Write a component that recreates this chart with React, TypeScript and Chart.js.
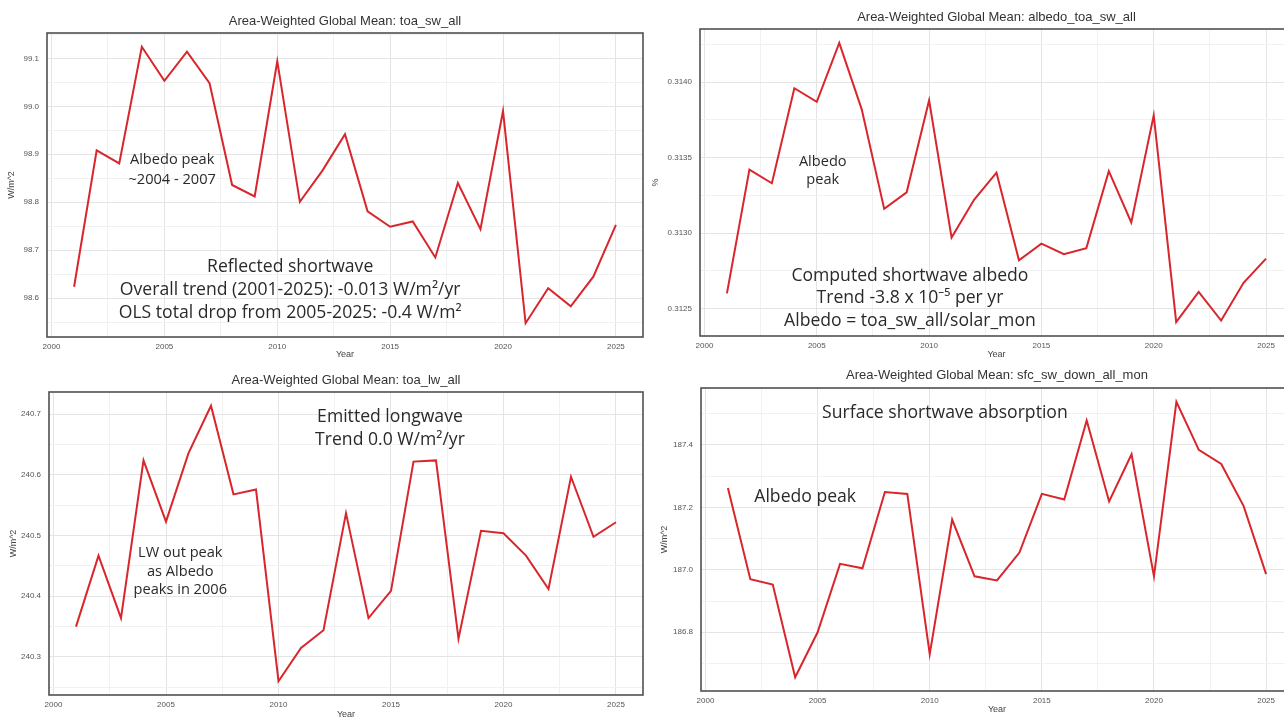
import React, { useEffect, useRef } from 'react';
import { Chart, registerables } from 'chart.js';

Chart.register(...registerables);

// ---------------- data ----------------
const years = [2001, 2002, 2003, 2004, 2005, 2006, 2007, 2008, 2009, 2010, 2011, 2012, 2013, 2014, 2015, 2016, 2017, 2018, 2019, 2020, 2021, 2022, 2023, 2024, 2025];

const toaSwAll = [98.624, 98.908, 98.881, 99.124, 99.053, 99.114, 99.048, 98.836, 98.812, 99.094, 98.801, 98.866, 98.942, 98.781, 98.749, 98.760, 98.685, 98.840, 98.744, 98.990, 98.548, 98.621, 98.583, 98.645, 98.753];
const albedoToaSwAll = [0.31260, 0.31342, 0.31333, 0.31396, 0.31387, 0.31426, 0.31382, 0.31316, 0.31327, 0.31388, 0.31297, 0.31322, 0.31340, 0.31282, 0.31293, 0.31286, 0.31290, 0.31341, 0.31307, 0.31378, 0.31241, 0.31261, 0.31242, 0.31267, 0.31283];
const toaLwAll = [240.350, 240.467, 240.364, 240.624, 240.523, 240.636, 240.714, 240.568, 240.576, 240.260, 240.315, 240.344, 240.537, 240.364, 240.409, 240.622, 240.624, 240.330, 240.508, 240.504, 240.467, 240.412, 240.597, 240.498, 240.522];
const sfcSwDownAllMon = [187.262, 186.970, 186.953, 186.656, 186.800, 187.019, 187.005, 187.249, 187.243, 186.730, 187.161, 186.979, 186.966, 187.055, 187.243, 187.225, 187.478, 187.219, 187.370, 186.979, 187.538, 187.384, 187.339, 187.204, 186.986];

const xTickYears = [2000, 2005, 2010, 2015, 2020, 2025];
const swTicks = [98.6, 98.7, 98.8, 98.9, 99.0, 99.1];
const albedoTicks = [0.3125, 0.3130, 0.3135, 0.3140];
const lwTicks = [240.3, 240.4, 240.5, 240.6, 240.7];
const sfcTicks = [186.8, 187.0, 187.2, 187.4];

const titles = [
  'Area-Weighted Global Mean: toa_sw_all',
  'Area-Weighted Global Mean: albedo_toa_sw_all',
  'Area-Weighted Global Mean: toa_lw_all',
  'Area-Weighted Global Mean: sfc_sw_down_all_mon',
];

// ---------------- layout ----------------
type Note = { text: string; fx: number; fy: number; size: number };
type Panel = {
  title: string;
  yTitle: string;
  values: number[];
  yTicks: number[];
  decimals: number;
  canvas: { left: number; top: number; width: number; height: number };
  area: { left: number; top: number; right: number; bottom: number };
  titleDy: number;
  yearDy: number;
  yTitleDx: number;
  notes: Note[];
};

const BIG = 17.6;
const SMALL = 14.6;

const panels: Panel[] = [
  {
    title: titles[0], yTitle: 'W/m^2', values: toaSwAll, yTicks: swTicks, decimals: 1,
    canvas: { left: 0, top: 0, width: 645, height: 362 },
    area: { left: 47, top: 33, right: 643, bottom: 337 },
    titleDy: -12, yearDy: 18, yTitleDx: -35,
    notes: [
      { text: 'Albedo peak', fx: 0.21, fy: 0.418, size: SMALL },
      { text: '~2004 - 2007', fx: 0.21, fy: 0.484, size: SMALL },
      { text: 'Reflected shortwave', fx: 0.408, fy: 0.770, size: BIG },
      { text: 'Overall trend (2001-2025): -0.013 W/m²/yr', fx: 0.408, fy: 0.845, size: BIG },
      { text: 'OLS total drop from 2005-2025: -0.4 W/m²', fx: 0.408, fy: 0.920, size: BIG },
    ],
  },
  {
    title: titles[1], yTitle: '%', values: albedoToaSwAll, yTicks: albedoTicks, decimals: 4,
    canvas: { left: 644, top: 0, width: 652, height: 362 },
    area: { left: 700, top: 29, right: 1293, bottom: 336 },
    titleDy: -12, yearDy: 19, yTitleDx: -44,
    notes: [
      { text: 'Albedo', fx: 0.207, fy: 0.433, size: SMALL },
      { text: 'peak', fx: 0.207, fy: 0.492, size: SMALL },
      { text: 'Computed shortwave albedo', fx: 0.354, fy: 0.805, size: BIG },
      { text: 'Trend -3.8 x 10⁻⁵ per yr', fx: 0.354, fy: 0.876, size: BIG },
      { text: 'Albedo = toa_sw_all/solar_mon', fx: 0.354, fy: 0.951, size: BIG },
    ],
  },
  {
    title: titles[2], yTitle: 'W/m^2', values: toaLwAll, yTicks: lwTicks, decimals: 1,
    canvas: { left: 0, top: 360, width: 645, height: 372 },
    area: { left: 49, top: 392, right: 643, bottom: 695 },
    titleDy: -12, yearDy: 20, yTitleDx: -35,
    notes: [
      { text: 'Emitted longwave', fx: 0.574, fy: 0.083, size: BIG },
      { text: 'Trend 0.0 W/m²/yr', fx: 0.574, fy: 0.158, size: BIG },
      { text: 'LW out peak', fx: 0.221, fy: 0.531, size: SMALL },
      { text: 'as Albedo', fx: 0.221, fy: 0.594, size: SMALL },
      { text: 'peaks in 2006', fx: 0.221, fy: 0.653, size: SMALL },
    ],
  },
  {
    title: titles[3], yTitle: 'W/m^2', values: sfcSwDownAllMon, yTicks: sfcTicks, decimals: 1,
    canvas: { left: 644, top: 360, width: 652, height: 372 },
    area: { left: 701, top: 388, right: 1293, bottom: 691 },
    titleDy: -13, yearDy: 19, yTitleDx: -36,
    notes: [
      { text: 'Surface shortwave absorption', fx: 0.412, fy: 0.083, size: BIG },
      { text: 'Albedo peak', fx: 0.176, fy: 0.360, size: BIG },
    ],
  },
];

const LINE_COLOR = '#d8262c';
const TICK_FONT = '"Liberation Sans", Arial, sans-serif';
const NOTE_FONT = '"Open Sans", "Noto Sans", sans-serif';

function withMinor(majors: number[], min: number, max: number) {
  const step = majors[1] - majors[0];
  const out: { value: number; isMinor: boolean }[] = [];
  const first = majors[0] - step * 2;
  for (let i = 0; i < majors.length + 4; i++) {
    const major = first + step * i;
    const half = major + step / 2;
    const isReal = majors.some((m) => Math.abs(m - major) < step * 1e-6);
    if (major >= min && major <= max) out.push({ value: major, isMinor: !isReal });
    if (half >= min && half <= max) out.push({ value: half, isMinor: true });
  }
  return out;
}

function makeDecor(p: Panel) {
  return {
    id: 'decor',
    afterDraw(chart: any) {
      const { ctx, chartArea: a } = chart;
      ctx.save();
      ctx.strokeStyle = '#505050';
      ctx.lineWidth = 1.6;
      ctx.strokeRect(a.left, a.top, a.right - a.left, a.bottom - a.top);

      const cx = (a.left + a.right) / 2;
      const cy = (a.top + a.bottom) / 2;
      ctx.fillStyle = '#333';
      ctx.textAlign = 'center';
      ctx.textBaseline = 'middle';
      ctx.font = `13px ${TICK_FONT}`;
      ctx.fillText(p.title, cx, a.top + p.titleDy);

      ctx.fillStyle = '#444';
      ctx.font = `9px ${TICK_FONT}`;
      ctx.fillText('Year', cx, a.bottom + p.yearDy);

      ctx.save();
      ctx.translate(a.left + p.yTitleDx, cy);
      ctx.rotate(-Math.PI / 2);
      ctx.fillText(p.yTitle, 0, 0);
      ctx.restore();

      ctx.fillStyle = '#2a2a2a';
      for (const n of p.notes) {
        ctx.font = `${n.size}px ${NOTE_FONT}`;
        ctx.fillText(n.text, a.left + n.fx * (a.right - a.left), a.top + n.fy * (a.bottom - a.top));
      }
      ctx.restore();
    },
  };
}

function PanelChart({ p }: { p: Panel }) {
  const ref = useRef<HTMLCanvasElement | null>(null);
  useEffect(() => {
    if (!ref.current) return;
    const xSpan = years[years.length - 1] - years[0];
    const xMin = years[0] - xSpan * 0.05;
    const xMax = years[years.length - 1] + xSpan * 0.05;
    const vMin = Math.min(...p.values);
    const vMax = Math.max(...p.values);
    const ySpan = vMax - vMin;
    const yMin = vMin - ySpan * 0.05;
    const yMax = vMax + ySpan * 0.05;
    const xTicks = withMinor(xTickYears, xMin, xMax);
    const yTicks = withMinor(p.yTicks, yMin, yMax);

    const c = p.canvas;
    const a = p.area;
    const chart = new Chart(ref.current, {
      type: 'line',
      data: {
        datasets: [
          {
            data: years.map((y, i) => ({ x: y, y: p.values[i] })),
            borderColor: LINE_COLOR,
            borderWidth: 2,
            pointRadius: 0,
            tension: 0,
            fill: false,
          },
        ],
      },
      options: {
        animation: false,
        responsive: false,
        devicePixelRatio: 1,
        events: [],
        layout: {
          padding: {
            left: 0,
            top: a.top - c.top,
            right: c.left + c.width - a.right,
            bottom: 0,
          },
        },
        plugins: { legend: { display: false }, title: { display: false }, tooltip: { enabled: false } },
        scales: {
          x: {
            type: 'linear',
            min: xMin,
            max: xMax,
            afterBuildTicks: (s: any) => {
              s.ticks = xTicks.map((t) => ({ ...t }));
            },
            afterFit: (s: any) => {
              s.height = c.top + c.height - a.bottom;
            },
            border: { display: false },
            grid: {
              drawTicks: false,
              color: (ctx: any) => (ctx.tick && ctx.tick.isMinor ? '#f1f1f1' : '#e4e4e4'),
              lineWidth: 1,
            },
            ticks: {
              padding: 5,
              maxRotation: 0,
              autoSkip: false,
              color: '#555',
              font: { family: TICK_FONT, size: 8 },
              callback: (v: any, i: number, ticks: any[]) => (ticks[i].isMinor ? '' : String(Math.round(Number(v)))),
            },
          },
          y: {
            type: 'linear',
            min: yMin,
            max: yMax,
            afterBuildTicks: (s: any) => {
              s.ticks = yTicks.map((t) => ({ ...t }));
            },
            afterFit: (s: any) => {
              s.width = a.left - c.left;
            },
            border: { display: false },
            grid: {
              drawTicks: false,
              color: (ctx: any) => (ctx.tick && ctx.tick.isMinor ? '#f1f1f1' : '#e4e4e4'),
              lineWidth: 1,
            },
            ticks: {
              padding: 8,
              autoSkip: false,
              color: '#555',
              font: { family: TICK_FONT, size: 8 },
              callback: (v: any, i: number, ticks: any[]) => (ticks[i].isMinor ? '' : Number(v).toFixed(p.decimals)),
            },
          },
        },
      },
      plugins: [makeDecor(p)],
    } as any);
    return () => chart.destroy();
  }, [p]);

  return (
    <canvas
      ref={ref}
      width={p.canvas.width}
      height={p.canvas.height}
      style={{
        position: 'absolute',
        left: p.canvas.left,
        top: p.canvas.top,
        width: p.canvas.width,
        height: p.canvas.height,
      }}
    />
  );
}

export default function App() {
  return (
    <div
      style={{
        position: 'fixed',
        left: 0,
        top: 0,
        width: 1284,
        height: 717,
        overflow: 'hidden',
        background: '#ffffff',
      }}
    >
      {panels.map((p, i) => (
        <PanelChart key={i} p={p} />
      ))}
    </div>
  );
}
